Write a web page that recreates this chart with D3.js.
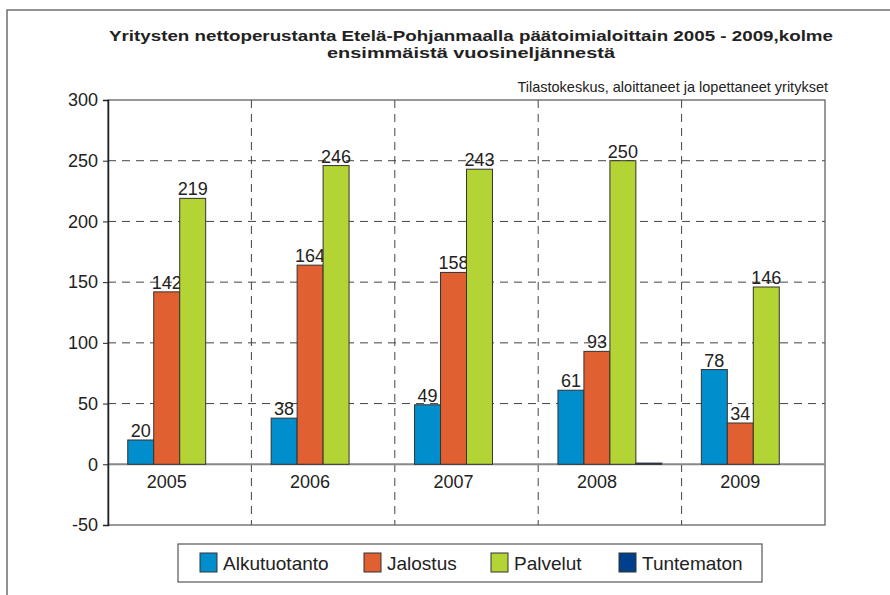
<!DOCTYPE html>
<html>
<head>
<meta charset="utf-8">
<script src="https://cdn.jsdelivr.net/npm/d3@7"></script>
<style>
  body { margin: 0; background: #fff; }
  svg { font-family: Arial, "Liberation Sans", sans-serif; }
</style>
</head>
<body>
<div id="chart"></div>
<script>
const years = ['2005', '2006', '2007', '2008', '2009'];
const seriesNames = ['Alkutuotanto', 'Jalostus', 'Palvelut', 'Tuntematon'];
const alkutuotanto = [20, 38, 49, 61, 78];
const jalostus = [142, 164, 158, 93, 34];
const palvelut = [219, 246, 243, 250, 146];
const tuntematon = [null, null, 0, 1, null];
const yTicks = [-50, 0, 50, 100, 150, 200, 250, 300];
const colors = ['#008fcc', '#e06031', '#b4d334', '#003f8a'];

const seriesValues = [alkutuotanto, jalostus, palvelut, tuntematon];
const showLabels = [true, true, true, false];

const width = 890, height = 595;
const plot = { left: 108, right: 825, top: 100, bottom: 525 };

const svg = d3.select('#chart').append('svg')
    .attr('width', width)
    .attr('height', height);

// outer frame (only left and top visible)
svg.append('rect')
    .attr('x', 7).attr('y', 10)
    .attr('width', 900).attr('height', 600)
    .attr('fill', 'none')
    .attr('stroke', '#6e6e6e')
    .attr('stroke-width', 1.5);

svg.append('text')
    .attr('x', 471).attr('y', 41)
    .attr('text-anchor', 'middle')
    .attr('font-size', 15.5).attr('font-weight', 'bold')
    .attr('textLength', 724).attr('lengthAdjust', 'spacingAndGlyphs')
    .attr('fill', '#222')
    .text('Yritysten nettoperustanta Etelä-Pohjanmaalla päätoimialoittain 2005 - 2009,kolme');
svg.append('text')
    .attr('x', 471).attr('y', 58)
    .attr('text-anchor', 'middle')
    .attr('font-size', 15.5).attr('font-weight', 'bold')
    .attr('textLength', 288).attr('lengthAdjust', 'spacingAndGlyphs')
    .attr('fill', '#222')
    .text('ensimmäistä vuosineljännestä');
svg.append('text')
    .attr('x', 828).attr('y', 92)
    .attr('text-anchor', 'end')
    .attr('font-size', 14.5)
    .attr('fill', '#222')
    .text('Tilastokeskus, aloittaneet ja lopettaneet yritykset');

const x = d3.scaleBand().domain(years).range([plot.left, plot.right]);
const xInner = d3.scaleBand().domain(seriesNames)
    .range([0, x.bandwidth()])
    .paddingInner(0).paddingOuter(0.76);
const y = d3.scaleLinear().domain([-50, 300]).range([plot.bottom, plot.top]);

// horizontal dashed grid
svg.append('g').selectAll('line')
    .data(yTicks.filter(d => d !== 0 && d !== 300 && d !== -50))
    .enter().append('line')
    .attr('x1', plot.left).attr('x2', plot.right)
    .attr('y1', d => y(d)).attr('y2', d => y(d))
    .attr('stroke', '#444').attr('stroke-width', 1)
    .attr('stroke-dasharray', '8,6');

// vertical dashed separators
svg.append('g').selectAll('line')
    .data(years.slice(1))
    .enter().append('line')
    .attr('x1', d => x(d)).attr('x2', d => x(d))
    .attr('y1', plot.top).attr('y2', plot.bottom)
    .attr('stroke', '#444').attr('stroke-width', 1)
    .attr('stroke-dasharray', '8,6');

// plot border
svg.append('rect')
    .attr('x', plot.left).attr('y', plot.top)
    .attr('width', plot.right - plot.left).attr('height', plot.bottom - plot.top)
    .attr('fill', 'none')
    .attr('stroke', '#555').attr('stroke-width', 1.2);

// zero line
svg.append('line')
    .attr('x1', plot.left).attr('x2', plot.right)
    .attr('y1', y(0)).attr('y2', y(0))
    .attr('stroke', '#888').attr('stroke-width', 2);

// y axis
const yAxis = svg.append('g')
    .attr('transform', `translate(${plot.left},0)`)
    .call(d3.axisLeft(y).tickValues(yTicks).tickSize(5).tickPadding(5)
        .tickFormat(d => String(d)));
yAxis.select('.domain').attr('stroke', '#222').attr('stroke-width', 1.5);
yAxis.selectAll('.tick line').attr('stroke', '#222');
yAxis.selectAll('.tick text')
    .attr('font-size', 18).attr('fill', '#222')
    .attr('font-family', 'Arial, "Liberation Sans", sans-serif');

// bars
seriesNames.forEach((name, si) => {
    const vals = seriesValues[si];
    const g = svg.append('g');
    const data = years.map((yr, i) => ({ yr, v: vals[i] })).filter(d => d.v !== null);
    g.selectAll('rect').data(data).enter().append('rect')
        .attr('x', d => x(d.yr) + xInner(name))
        .attr('y', d => y(Math.max(0, d.v)))
        .attr('width', xInner.bandwidth())
        .attr('height', d => Math.abs(y(d.v) - y(0)))
        .attr('fill', colors[si])
        .attr('stroke', '#333').attr('stroke-width', 1);
    if (showLabels[si]) {
        g.selectAll('text').data(data).enter().append('text')
            .attr('x', d => x(d.yr) + xInner(name) + xInner.bandwidth() / 2)
            .attr('y', d => y(d.v) - 3)
            .attr('text-anchor', 'middle')
            .attr('font-size', 18).attr('fill', '#222')
            .text(d => d.v);
    }
});

// category labels
svg.append('g').selectAll('text')
    .data(years).enter().append('text')
    .attr('x', d => x(d) + x.bandwidth() / 2 - 13)
    .attr('y', 488)
    .attr('text-anchor', 'middle')
    .attr('font-size', 18).attr('fill', '#222')
    .text(d => d);

// legend
const legend = svg.append('g');
legend.append('rect')
    .attr('x', 178).attr('y', 544)
    .attr('width', 584).attr('height', 38)
    .attr('fill', '#fff')
    .attr('stroke', '#555').attr('stroke-width', 1.2);
const legendX = [200, 364, 491, 619];
seriesNames.forEach((name, i) => {
    legend.append('rect')
        .attr('x', legendX[i]).attr('y', 553)
        .attr('width', 17).attr('height', 19)
        .attr('fill', colors[i])
        .attr('stroke', '#333').attr('stroke-width', 1);
    legend.append('text')
        .attr('x', legendX[i] + 23).attr('y', 570)
        .attr('font-size', 19).attr('fill', '#222')
        .text(name);
});
</script>
</body>
</html>
